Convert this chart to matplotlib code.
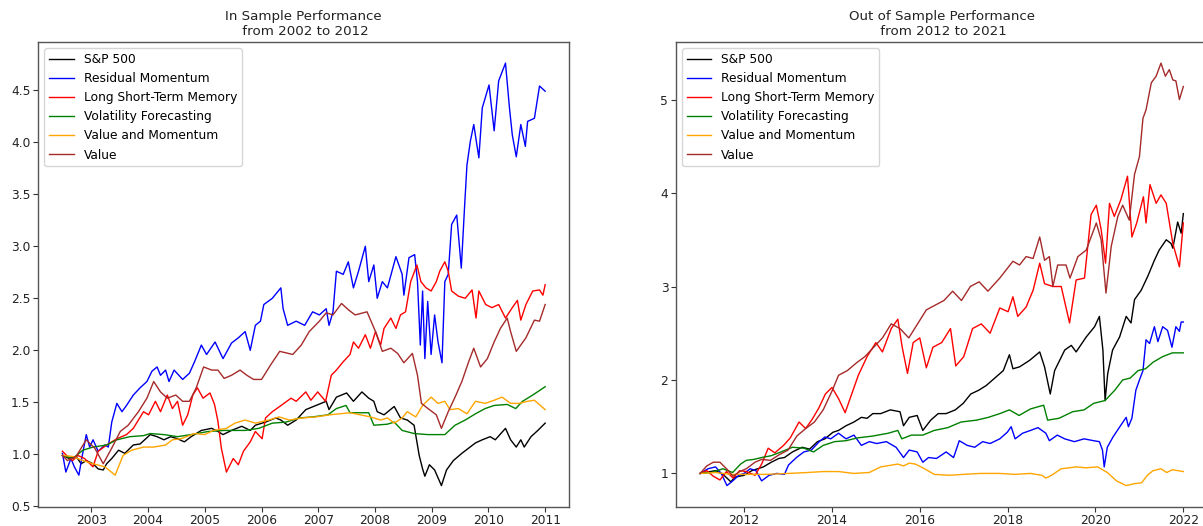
import matplotlib
matplotlib.use("Agg")
import matplotlib.pyplot as plt
import matplotlib.dates as mdates
import pandas as pd
import numpy as np

# ---------------- In-sample data (decimal year, cumulative value) ----------------
is_sp500 = [(2002.49, 0.99), (2002.61, 0.96), (2002.73, 0.98), (2002.82, 0.91), (2002.91, 0.94),
            (2003.03, 0.91), (2003.12, 0.86), (2003.21, 0.85), (2003.27, 0.91), (2003.36, 0.96),
            (2003.48, 1.04), (2003.59, 1.01), (2003.74, 1.09), (2003.86, 1.10), (2004.04, 1.19),
            (2004.16, 1.17), (2004.28, 1.14), (2004.40, 1.17), (2004.52, 1.15), (2004.64, 1.12),
            (2004.76, 1.17), (2004.94, 1.23), (2005.12, 1.25), (2005.23, 1.22), (2005.32, 1.19),
            (2005.47, 1.23), (2005.65, 1.27), (2005.80, 1.23), (2005.89, 1.28), (2006.07, 1.31),
            (2006.25, 1.35), (2006.34, 1.33), (2006.46, 1.28), (2006.61, 1.33), (2006.78, 1.43),
            (2006.96, 1.47), (2007.14, 1.51), (2007.19, 1.43), (2007.32, 1.55), (2007.50, 1.59),
            (2007.62, 1.51), (2007.77, 1.60), (2007.89, 1.54), (2007.98, 1.51), (2008.04, 1.41),
            (2008.16, 1.38), (2008.34, 1.46), (2008.45, 1.35), (2008.57, 1.33), (2008.69, 1.28),
            (2008.78, 0.99), (2008.84, 0.86), (2008.88, 0.79), (2008.96, 0.90), (2009.05, 0.85),
            (2009.17, 0.70), (2009.26, 0.85), (2009.38, 0.94), (2009.53, 1.01), (2009.65, 1.06),
            (2009.77, 1.11), (2009.89, 1.14), (2010.03, 1.17), (2010.12, 1.14), (2010.30, 1.25),
            (2010.39, 1.14), (2010.49, 1.07), (2010.57, 1.14), (2010.63, 1.07), (2010.75, 1.17),
            (2010.87, 1.23), (2011.00, 1.30)]

is_resid_mom = [(2002.49, 1.01), (2002.55, 0.83), (2002.64, 0.96), (2002.70, 0.88), (2002.78, 0.80),
                (2002.82, 0.93), (2002.91, 1.19), (2002.97, 1.07), (2003.03, 1.14), (2003.12, 1.03),
                (2003.24, 1.09), (2003.30, 1.07), (2003.36, 1.31), (2003.45, 1.49), (2003.54, 1.41),
                (2003.62, 1.47), (2003.74, 1.57), (2003.86, 1.64), (2003.98, 1.70), (2004.07, 1.80),
                (2004.16, 1.84), (2004.22, 1.76), (2004.31, 1.81), (2004.37, 1.70), (2004.46, 1.81),
                (2004.61, 1.72), (2004.73, 1.78), (2004.82, 1.89), (2004.94, 2.05), (2005.03, 1.96),
                (2005.18, 2.08), (2005.32, 1.92), (2005.47, 2.07), (2005.59, 2.12), (2005.71, 2.18),
                (2005.80, 2.00), (2005.89, 2.24), (2005.98, 2.28), (2006.04, 2.44), (2006.19, 2.50),
                (2006.34, 2.60), (2006.38, 2.40), (2006.46, 2.24), (2006.61, 2.28), (2006.76, 2.24),
                (2006.90, 2.37), (2007.02, 2.34), (2007.14, 2.40), (2007.19, 2.24), (2007.26, 2.37),
                (2007.32, 2.76), (2007.44, 2.73), (2007.53, 2.85), (2007.62, 2.60), (2007.71, 2.76),
                (2007.83, 3.00), (2007.89, 2.66), (2007.98, 2.82), (2008.04, 2.50), (2008.13, 2.66),
                (2008.22, 2.60), (2008.37, 2.90), (2008.48, 2.73), (2008.51, 2.53), (2008.60, 2.89),
                (2008.70, 2.92), (2008.75, 2.66), (2008.80, 2.05), (2008.84, 2.57), (2008.88, 1.92),
                (2008.93, 2.47), (2008.99, 1.96), (2009.05, 2.34), (2009.11, 2.08), (2009.18, 1.88),
                (2009.23, 2.66), (2009.29, 2.73), (2009.35, 3.21), (2009.44, 3.30), (2009.52, 2.79),
                (2009.58, 3.40), (2009.62, 3.78), (2009.68, 4.01), (2009.74, 4.17), (2009.83, 3.85),
                (2009.89, 4.33), (2010.01, 4.55), (2010.10, 4.11), (2010.18, 4.59), (2010.30, 4.76),
                (2010.37, 4.33), (2010.42, 4.07), (2010.49, 3.86), (2010.57, 4.17), (2010.65, 3.96),
                (2010.69, 4.20), (2010.81, 4.23), (2010.90, 4.54), (2011.00, 4.49)]

is_lstm = [(2002.49, 1.03), (2002.58, 0.98), (2002.67, 0.94), (2002.76, 0.99), (2002.88, 0.96),
           (2003.03, 0.88), (2003.12, 1.03), (2003.27, 1.09), (2003.45, 1.15), (2003.62, 1.19),
           (2003.74, 1.25), (2003.83, 1.33), (2003.92, 1.41), (2004.01, 1.38), (2004.13, 1.51),
           (2004.22, 1.41), (2004.34, 1.57), (2004.43, 1.44), (2004.52, 1.51), (2004.61, 1.28),
           (2004.70, 1.38), (2004.79, 1.57), (2004.87, 1.64), (2004.97, 1.54), (2005.09, 1.59),
           (2005.17, 1.48), (2005.23, 1.32), (2005.29, 1.06), (2005.38, 0.83), (2005.50, 0.96),
           (2005.59, 0.90), (2005.68, 1.03), (2005.80, 1.12), (2005.89, 1.22), (2006.01, 1.15),
           (2006.07, 1.35), (2006.19, 1.41), (2006.37, 1.48), (2006.52, 1.54), (2006.61, 1.51),
           (2006.78, 1.60), (2006.87, 1.52), (2006.99, 1.60), (2007.13, 1.51), (2007.23, 1.76),
           (2007.32, 1.81), (2007.44, 1.89), (2007.56, 1.96), (2007.62, 2.08), (2007.71, 2.02),
           (2007.83, 2.15), (2007.92, 2.02), (2008.01, 2.18), (2008.10, 2.05), (2008.16, 2.21),
           (2008.28, 2.31), (2008.37, 2.21), (2008.45, 2.34), (2008.54, 2.37), (2008.63, 2.66),
           (2008.74, 2.82), (2008.81, 2.66), (2008.90, 2.60), (2008.99, 2.57), (2009.08, 2.66),
           (2009.14, 2.76), (2009.23, 2.85), (2009.29, 2.76), (2009.35, 2.57), (2009.47, 2.52),
           (2009.59, 2.50), (2009.71, 2.58), (2009.78, 2.31), (2009.83, 2.57), (2009.95, 2.44),
           (2010.06, 2.41), (2010.18, 2.44), (2010.30, 2.31), (2010.42, 2.41), (2010.51, 2.48),
           (2010.57, 2.29), (2010.66, 2.44), (2010.78, 2.57), (2010.90, 2.58), (2010.96, 2.53),
           (2011.00, 2.63)]

is_vol_fc = [(2002.49, 0.99), (2002.67, 0.96), (2002.85, 1.04), (2003.03, 1.07), (2003.27, 1.09),
             (2003.45, 1.14), (2003.68, 1.17), (2003.92, 1.18), (2004.04, 1.20), (2004.28, 1.19),
             (2004.52, 1.17), (2004.76, 1.19), (2005.06, 1.22), (2005.35, 1.23), (2005.71, 1.23),
             (2005.95, 1.25), (2006.19, 1.30), (2006.43, 1.31), (2006.67, 1.35), (2006.90, 1.36),
             (2007.17, 1.38), (2007.32, 1.44), (2007.49, 1.47), (2007.56, 1.40), (2007.89, 1.40),
             (2007.98, 1.28), (2008.22, 1.29), (2008.34, 1.31), (2008.48, 1.23), (2008.69, 1.20),
             (2008.93, 1.19), (2009.23, 1.19), (2009.41, 1.28), (2009.59, 1.33), (2009.77, 1.39),
             (2009.94, 1.44), (2010.10, 1.47), (2010.33, 1.48), (2010.48, 1.44), (2010.60, 1.51),
             (2010.78, 1.57), (2011.00, 1.65)]

is_val_mom = [(2002.49, 0.99), (2002.67, 0.98), (2002.85, 0.94), (2003.03, 0.91), (2003.24, 0.88),
              (2003.42, 0.80), (2003.56, 0.99), (2003.71, 1.04), (2003.92, 1.07), (2004.10, 1.07),
              (2004.31, 1.09), (2004.43, 1.14), (2004.58, 1.15), (2004.82, 1.20), (2005.00, 1.19),
              (2005.15, 1.23), (2005.38, 1.25), (2005.53, 1.30), (2005.71, 1.33), (2005.89, 1.30),
              (2006.13, 1.33), (2006.31, 1.36), (2006.49, 1.33), (2006.72, 1.35), (2006.96, 1.36),
              (2007.20, 1.38), (2007.38, 1.39), (2007.56, 1.40), (2007.74, 1.38), (2007.92, 1.36),
              (2008.10, 1.33), (2008.22, 1.35), (2008.34, 1.30), (2008.48, 1.35), (2008.57, 1.41),
              (2008.72, 1.36), (2008.84, 1.47), (2008.99, 1.55), (2009.11, 1.49), (2009.23, 1.51),
              (2009.32, 1.43), (2009.47, 1.44), (2009.62, 1.39), (2009.77, 1.51), (2009.94, 1.49),
              (2010.10, 1.52), (2010.24, 1.55), (2010.39, 1.49), (2010.54, 1.49), (2010.69, 1.51),
              (2010.81, 1.52), (2011.00, 1.43)]

is_value = [(2002.49, 0.99), (2002.58, 0.94), (2002.73, 0.98), (2002.91, 1.14), (2003.06, 1.06),
            (2003.21, 0.91), (2003.36, 1.06), (2003.51, 1.22), (2003.65, 1.28), (2003.83, 1.41),
            (2003.98, 1.54), (2004.10, 1.70), (2004.22, 1.60), (2004.34, 1.54), (2004.49, 1.57),
            (2004.61, 1.51), (2004.73, 1.51), (2004.85, 1.64), (2004.98, 1.84), (2005.12, 1.81),
            (2005.23, 1.81), (2005.34, 1.73), (2005.47, 1.76), (2005.62, 1.81), (2005.74, 1.76),
            (2005.86, 1.72), (2006.00, 1.72), (2006.16, 1.86), (2006.32, 1.99), (2006.55, 1.96),
            (2006.70, 2.05), (2006.84, 2.18), (2007.02, 2.28), (2007.14, 2.36), (2007.26, 2.34),
            (2007.41, 2.45), (2007.53, 2.39), (2007.65, 2.34), (2007.86, 2.37), (2008.01, 2.18),
            (2008.13, 1.99), (2008.28, 2.02), (2008.40, 1.97), (2008.51, 1.88), (2008.66, 1.97),
            (2008.75, 1.76), (2008.82, 1.49), (2008.96, 1.43), (2009.08, 1.38), (2009.17, 1.25),
            (2009.29, 1.41), (2009.41, 1.55), (2009.53, 1.70), (2009.65, 1.89), (2009.74, 2.02),
            (2009.86, 1.84), (2009.98, 1.92), (2010.10, 2.08), (2010.21, 2.21), (2010.33, 2.31),
            (2010.39, 2.18), (2010.49, 1.99), (2010.66, 2.12), (2010.81, 2.29), (2010.90, 2.28),
            (2011.00, 2.44)]

# ---------------- Out-of-sample data ----------------
oos_sp500 = [(2011.00, 1.00), (2011.35, 1.03), (2011.52, 0.99), (2011.70, 0.91), (2011.79, 0.96),
             (2012.00, 0.98), (2012.18, 1.03), (2012.31, 1.05), (2012.44, 1.07), (2012.62, 1.12),
             (2012.79, 1.16), (2012.92, 1.17), (2013.10, 1.23), (2013.32, 1.28), (2013.49, 1.26),
             (2013.67, 1.34), (2013.84, 1.37), (2014.02, 1.44), (2014.15, 1.46), (2014.32, 1.51),
             (2014.50, 1.55), (2014.67, 1.60), (2014.80, 1.59), (2014.93, 1.64), (2015.11, 1.64),
             (2015.33, 1.68), (2015.55, 1.66), (2015.63, 1.51), (2015.76, 1.60), (2015.94, 1.62),
             (2016.07, 1.46), (2016.25, 1.57), (2016.42, 1.64), (2016.60, 1.64), (2016.81, 1.68),
             (2016.99, 1.75), (2017.16, 1.85), (2017.34, 1.89), (2017.51, 1.94), (2017.73, 2.03),
             (2017.90, 2.10), (2018.04, 2.27), (2018.12, 2.12), (2018.27, 2.14), (2018.50, 2.21),
             (2018.73, 2.30), (2018.84, 2.14), (2018.97, 1.85), (2019.07, 2.10), (2019.30, 2.32),
             (2019.45, 2.37), (2019.56, 2.30), (2019.79, 2.46), (2019.98, 2.57), (2020.09, 2.68),
             (2020.17, 2.32), (2020.22, 1.78), (2020.28, 2.07), (2020.39, 2.32), (2020.55, 2.46),
             (2020.70, 2.68), (2020.81, 2.61), (2020.89, 2.86), (2021.04, 2.96), (2021.19, 3.11),
             (2021.34, 3.28), (2021.45, 3.39), (2021.61, 3.50), (2021.72, 3.46), (2021.76, 3.41),
             (2021.87, 3.69), (2021.95, 3.57), (2022.00, 3.78)]

oos_resid_mom = [(2011.00, 1.00), (2011.18, 1.05), (2011.35, 1.07), (2011.48, 1.00), (2011.61, 0.87),
                 (2011.74, 0.92), (2011.88, 0.98), (2012.00, 1.00), (2012.14, 1.05), (2012.27, 1.03),
                 (2012.40, 0.92), (2012.57, 0.98), (2012.75, 1.00), (2012.92, 0.99), (2013.01, 1.09),
                 (2013.19, 1.17), (2013.36, 1.23), (2013.53, 1.25), (2013.71, 1.34), (2013.84, 1.39),
                 (2013.97, 1.37), (2014.15, 1.43), (2014.32, 1.37), (2014.50, 1.41), (2014.67, 1.30),
                 (2014.85, 1.34), (2015.02, 1.32), (2015.24, 1.34), (2015.46, 1.28), (2015.63, 1.17),
                 (2015.76, 1.25), (2015.94, 1.23), (2016.07, 1.12), (2016.20, 1.17), (2016.38, 1.16),
                 (2016.60, 1.23), (2016.77, 1.17), (2016.90, 1.35), (2017.08, 1.30), (2017.25, 1.28),
                 (2017.43, 1.34), (2017.60, 1.32), (2017.82, 1.37), (2017.99, 1.44), (2018.08, 1.50),
                 (2018.17, 1.37), (2018.34, 1.43), (2018.52, 1.46), (2018.69, 1.49), (2018.87, 1.43),
                 (2018.95, 1.35), (2019.13, 1.41), (2019.30, 1.37), (2019.52, 1.34), (2019.74, 1.37),
                 (2019.96, 1.35), (2020.09, 1.34), (2020.16, 1.25), (2020.20, 1.07), (2020.27, 1.28),
                 (2020.40, 1.39), (2020.57, 1.51), (2020.70, 1.60), (2020.75, 1.50), (2020.83, 1.59),
                 (2020.92, 1.89), (2021.00, 2.00), (2021.08, 2.10), (2021.15, 2.43), (2021.23, 2.39),
                 (2021.34, 2.57), (2021.42, 2.41), (2021.53, 2.57), (2021.64, 2.53), (2021.74, 2.35),
                 (2021.83, 2.57), (2021.91, 2.52), (2021.95, 2.62), (2022.00, 2.62)]

oos_lstm = [(2011.00, 1.00), (2011.15, 1.03), (2011.30, 0.97), (2011.45, 0.93), (2011.60, 1.02),
            (2011.75, 0.95), (2011.90, 1.03), (2012.05, 1.02), (2012.25, 0.98), (2012.40, 1.10),
            (2012.55, 1.27), (2012.70, 1.22), (2012.90, 1.30), (2013.05, 1.38), (2013.25, 1.55),
            (2013.40, 1.48), (2013.55, 1.58), (2013.70, 1.70), (2013.85, 1.85), (2014.00, 1.92),
            (2014.15, 1.80), (2014.30, 1.65), (2014.45, 1.85), (2014.60, 2.05), (2014.80, 2.25),
            (2015.00, 2.40), (2015.15, 2.30), (2015.35, 2.55), (2015.50, 2.65), (2015.60, 2.35),
            (2015.72, 2.07), (2015.85, 2.40), (2016.00, 2.45), (2016.15, 2.13), (2016.30, 2.35),
            (2016.50, 2.40), (2016.70, 2.55), (2016.82, 2.15), (2017.00, 2.25), (2017.20, 2.55),
            (2017.40, 2.60), (2017.60, 2.50), (2017.82, 2.77), (2018.01, 2.73), (2018.12, 2.89),
            (2018.23, 2.68), (2018.42, 2.78), (2018.58, 2.96), (2018.73, 3.25), (2018.84, 3.03),
            (2019.03, 3.00), (2019.22, 3.00), (2019.41, 2.61), (2019.56, 3.07), (2019.75, 3.09),
            (2019.90, 3.77), (2020.02, 3.87), (2020.13, 3.61), (2020.23, 3.25), (2020.32, 3.89),
            (2020.43, 3.75), (2020.58, 3.93), (2020.73, 4.18), (2020.83, 3.53), (2020.94, 3.68),
            (2021.09, 3.96), (2021.15, 3.68), (2021.24, 4.09), (2021.38, 3.89), (2021.49, 3.98),
            (2021.61, 3.89), (2021.76, 3.46), (2021.91, 3.21), (2022.00, 3.68)]

oos_vol_fc = [(2011.00, 1.00), (2011.26, 1.01), (2011.52, 1.05), (2011.74, 1.01), (2011.92, 1.10),
              (2012.05, 1.14), (2012.22, 1.15), (2012.40, 1.17), (2012.62, 1.19), (2012.84, 1.23),
              (2013.10, 1.28), (2013.36, 1.27), (2013.58, 1.23), (2013.80, 1.30), (2014.06, 1.34),
              (2014.32, 1.35), (2014.58, 1.38), (2014.93, 1.40), (2015.28, 1.43), (2015.50, 1.46),
              (2015.59, 1.37), (2015.81, 1.41), (2016.07, 1.41), (2016.33, 1.46), (2016.64, 1.49),
              (2016.94, 1.55), (2017.29, 1.57), (2017.56, 1.60), (2017.82, 1.64), (2018.04, 1.68),
              (2018.26, 1.62), (2018.52, 1.69), (2018.82, 1.73), (2018.91, 1.57), (2019.17, 1.59),
              (2019.48, 1.66), (2019.74, 1.68), (2019.96, 1.75), (2020.22, 1.78), (2020.44, 1.89),
              (2020.62, 2.00), (2020.79, 2.02), (2020.97, 2.10), (2021.14, 2.12), (2021.31, 2.19),
              (2021.53, 2.25), (2021.75, 2.29), (2022.00, 2.29)]

oos_val_mom = [(2011.00, 1.00), (2011.35, 1.01), (2011.70, 0.99), (2012.05, 0.99), (2012.49, 0.99),
               (2013.01, 1.00), (2013.45, 1.01), (2013.80, 1.02), (2014.15, 1.02), (2014.50, 1.00),
               (2014.85, 1.01), (2015.11, 1.07), (2015.37, 1.09), (2015.50, 1.10), (2015.63, 1.08),
               (2015.76, 1.11), (2015.90, 1.10), (2016.11, 1.05), (2016.33, 0.99), (2016.68, 0.98),
               (2016.99, 0.99), (2017.38, 1.00), (2017.82, 1.00), (2018.17, 0.99), (2018.52, 1.00),
               (2018.78, 0.98), (2018.87, 0.95), (2019.00, 0.98), (2019.22, 1.05), (2019.57, 1.07),
               (2019.78, 1.06), (2020.05, 1.07), (2020.27, 1.01), (2020.48, 0.92), (2020.70, 0.87),
               (2020.88, 0.89), (2021.05, 0.90), (2021.18, 0.98), (2021.31, 1.03), (2021.49, 1.05),
               (2021.62, 1.01), (2021.75, 1.04), (2022.00, 1.02)]

oos_value = [(2011.00, 1.00), (2011.15, 1.08), (2011.30, 1.12), (2011.45, 1.12), (2011.60, 1.05),
             (2011.75, 0.97), (2011.90, 1.02), (2012.05, 1.05), (2012.25, 1.12), (2012.40, 1.15),
             (2012.60, 1.14), (2012.80, 1.20), (2013.00, 1.25), (2013.20, 1.40), (2013.40, 1.48),
             (2013.60, 1.55), (2013.80, 1.68), (2014.00, 1.88), (2014.15, 2.05), (2014.35, 2.10),
             (2014.55, 2.18), (2014.75, 2.25), (2014.95, 2.35), (2015.15, 2.45), (2015.35, 2.60),
             (2015.55, 2.55), (2015.75, 2.45), (2015.95, 2.60), (2016.15, 2.75), (2016.35, 2.80),
             (2016.55, 2.85), (2016.75, 2.95), (2016.95, 2.85), (2017.15, 3.00), (2017.35, 3.05),
             (2017.55, 2.95), (2017.82, 3.09), (2017.97, 3.18), (2018.12, 3.27), (2018.27, 3.23),
             (2018.42, 3.32), (2018.58, 3.30), (2018.73, 3.53), (2018.84, 3.28), (2018.95, 3.32),
             (2019.03, 3.00), (2019.14, 3.23), (2019.33, 3.23), (2019.42, 3.09), (2019.60, 3.32),
             (2019.79, 3.39), (2020.02, 3.68), (2020.13, 3.50), (2020.24, 2.93), (2020.36, 3.43),
             (2020.51, 3.75), (2020.62, 3.87), (2020.77, 3.71), (2020.89, 4.20), (2021.00, 4.39),
             (2021.08, 4.80), (2021.15, 4.89), (2021.27, 5.18), (2021.38, 5.25), (2021.49, 5.39),
             (2021.59, 5.25), (2021.68, 5.32), (2021.76, 5.21), (2021.83, 5.20), (2021.91, 5.00),
             (2022.00, 5.14)]

labels = ["S&P 500", "Residual Momentum", "Long Short-Term Memory",
          "Volatility Forecasting", "Value and Momentum", "Value"]
colors = ["black", "blue", "red", "green", "orange", "brown"]
titles = ["In Sample Performance\n from 2002 to 2012", "Out of Sample Performance\n from 2012 to 2021"]

in_sample = [is_sp500, is_resid_mom, is_lstm, is_vol_fc, is_val_mom, is_value]
out_sample = [oos_sp500, oos_resid_mom, oos_lstm, oos_vol_fc, oos_val_mom, oos_value]


def to_dates(series):
    yrs = np.array([p[0] for p in series])
    vals = np.array([p[1] for p in series])
    whole = np.floor(yrs).astype(int)
    dates = [pd.Timestamp(year=int(y), month=1, day=1) + pd.Timedelta(days=float((f - y) * 365.25))
             for y, f in zip(whole, yrs)]
    return dates, vals


W, H = 1203, 526
fig = plt.figure(figsize=(W / 100, H / 100), dpi=100)
ax1 = fig.add_axes([38.3 / W, (H - 506.7) / H, 531 / W, 464.7 / H])
ax2 = fig.add_axes([676 / W, (H - 506.7) / H, 531.5 / W, 464.7 / H])

for ax, data, title, base in [(ax1, in_sample, titles[0], 1), (ax2, out_sample, titles[1], 2)]:
    for series, lab, col in zip(data, labels, colors):
        d, v = to_dates(series)
        ax.plot(d, v, color=col, lw=1.0, label=lab)
    ax.set_title(title, fontsize=9.6, pad=5, color="#222222")
    ax.xaxis.set_major_locator(mdates.YearLocator(base))
    ax.xaxis.set_major_formatter(mdates.DateFormatter("%Y"))
    ax.tick_params(labelsize=8.8, pad=2.0, colors="#333333", labelcolor="#222222")
    for sp in ax.spines.values():
        sp.set_color("#555555")
        sp.set_linewidth(1.0)
    ax.legend(loc="upper left", fontsize=8.8)

ax1.set_yticks([0.5, 1.0, 1.5, 2.0, 2.5, 3.0, 3.5, 4.0, 4.5])

fig.savefig("out.png", dpi=100)
